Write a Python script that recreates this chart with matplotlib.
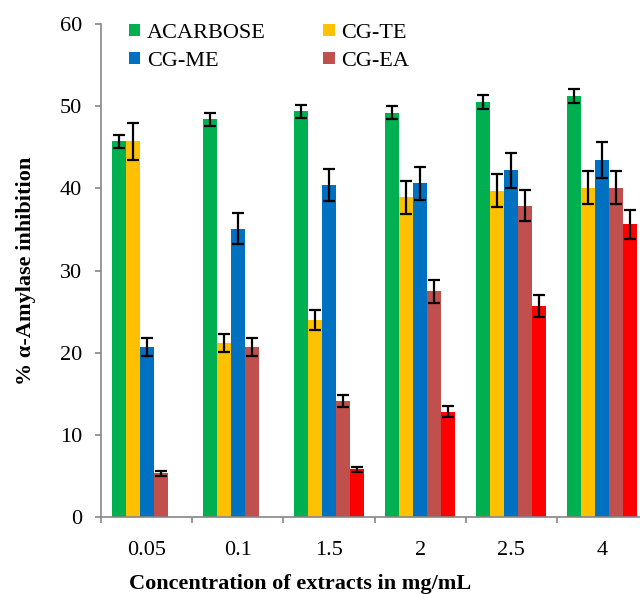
import numpy as np
import matplotlib
matplotlib.use("Agg")
import matplotlib.pyplot as plt
from matplotlib.patches import Patch

plt.rcParams['font.family'] = ['Liberation Serif', 'DejaVu Serif']

concentrations = ["0.05", "0.1", "1.5", "2", "2.5", "4"]
series_names = ["ACARBOSE", "CG-TE", "CG-ME", "CG-EA", ""]
colors = ["#00B050", "#FFC000", "#0070C0", "#C0504D", "#FF0000"]

acarbose = [45.7, 48.4, 49.4, 49.2, 50.5, 51.2]
cg_te = [45.7, 21.2, 24.0, 38.9, 39.7, 40.1]
cg_me = [20.7, 35.1, 40.4, 40.6, 42.2, 43.4]
cg_ea = [5.3, 20.7, 14.1, 27.5, 37.9, 40.1]
extra = [0, 0, 5.8, 12.8, 25.7, 35.6]

acarbose_err = [0.8, 0.8, 0.8, 0.8, 0.8, 0.85]
cg_te_err = [2.3, 1.1, 1.2, 2.0, 2.0, 2.0]
cg_me_err = [1.1, 1.9, 2.0, 2.0, 2.1, 2.2]
cg_ea_err = [0.3, 1.1, 0.7, 1.4, 1.9, 2.0]
extra_err = [0, 0, 0.3, 0.65, 1.3, 1.8]

values = [acarbose, cg_te, cg_me, cg_ea, extra]
errors = [acarbose_err, cg_te_err, cg_me_err, cg_ea_err, extra_err]

fig = plt.figure(figsize=(6.4, 5.94), dpi=100)
ax = fig.add_axes([101 / 640, 77 / 594, 547 / 640, 493 / 594])

x = np.arange(len(concentrations)) + 0.5
width = 0.1535
for k in range(5):
    pos = x + (k - 2) * width
    vals = np.array(values[k])
    errs = np.array(errors[k])
    ax.bar(pos, vals, width, color=colors[k], edgecolor="none", zorder=2)
    mask = vals > 0
    ax.errorbar(pos[mask], vals[mask], yerr=errs[mask], fmt="none",
                ecolor="black", elinewidth=1.6, capsize=4.5, capthick=1.6, zorder=3)

ax.set_xlim(0, len(concentrations))
ax.set_ylim(0, 60)
ax.set_yticks(np.arange(0, 61, 10))
ax.set_xticks(np.arange(0, len(concentrations) + 1))
ax.set_xticklabels([])
ax.set_xticks(x, minor=True)
ax.set_xticklabels(concentrations, minor=True)
ax.tick_params(axis="x", which="minor", length=0, pad=17, labelsize=16)
ax.tick_params(axis="x", which="major", length=4.5, color="#868686", width=1.2)
ax.tick_params(axis="y", length=4.5, color="#868686", width=1.2, labelsize=16, pad=9)

for s in ["top", "right"]:
    ax.spines[s].set_visible(False)
for s in ["left", "bottom"]:
    ax.spines[s].set_color("#868686")
    ax.spines[s].set_linewidth(1.2)

ax.set_ylabel("% α-Amylase inhibition", fontsize=16, fontweight="bold")
ax.yaxis.set_label_coords(-65 / 547, 0.5)
ax.set_xlabel("Concentration of extracts in mg/mL", fontsize=16, fontweight="bold")
ax.xaxis.set_label_coords(199 / 547, -57 / 493)

# legend fills column-wise, so order handles to read row-wise
order = [0, 2, 1, 3]
handles = [Patch(facecolor=colors[k], edgecolor="none", label=series_names[k]) for k in order]
ax.legend(handles=handles, ncol=2, loc="upper left", bbox_to_anchor=(0.035, 1.019),
          borderaxespad=0, frameon=False, fontsize=16, handlelength=0.5, handleheight=0.5,
          handletextpad=0.3, columnspacing=2.6, labelspacing=0.4)

fig.savefig("out.png", dpi=100)
